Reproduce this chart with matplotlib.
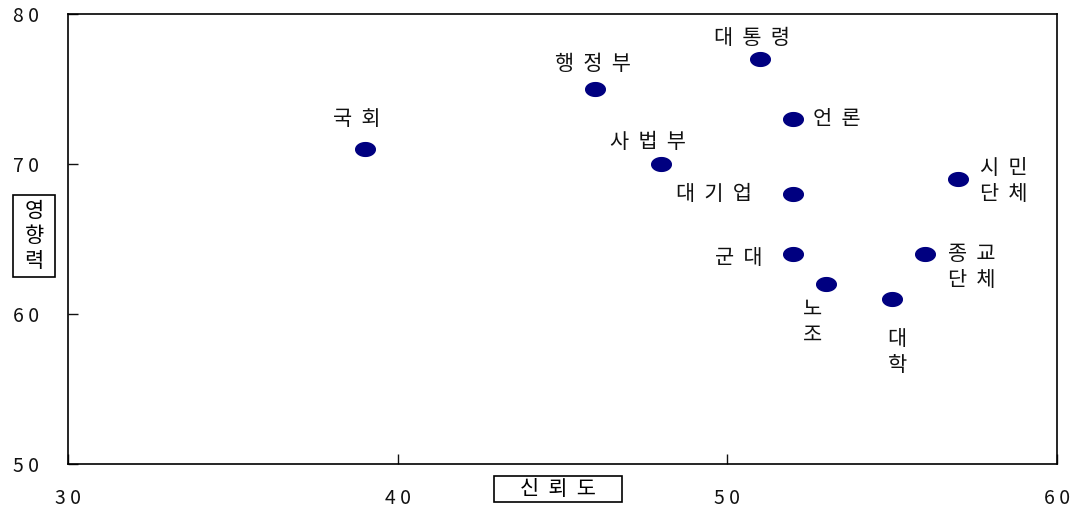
import matplotlib
matplotlib.use("Agg")
import matplotlib.pyplot as plt
import numpy as np
from matplotlib.path import Path
from matplotlib.patches import Rectangle

plt.rcParams['font.family'] = ['Noto Sans CJK KR', 'DejaVu Sans']
plt.rcParams['font.size'] = 15

# data: trust (x) vs influence (y)
names = ["국  회", "행  정  부", "대  통  령", "언  론", "사  법  부", "대  기  업",
         "시  민\n단  체", "군  대", "종  교\n단  체", "노\n조", "대\n학"]
trust = [39, 46, 51, 52, 48, 52, 57, 52, 56, 53, 55]
influence = [71, 75, 77, 73, 70, 68, 69, 64, 64, 62, 61]

x_ticks = [30, 40, 50, 60]
x_tick_labels = ["3 0", "4 0", "5 0", "6 0"]
y_ticks = [50, 60, 70, 80]
y_tick_labels = ["5 0", "6 0", "7 0", "8 0"]

# label placement: offset in pixels from point, alignment
label_pos = [(-8, 30, 'center'), (-3, 25, 'center'), (-8, 21, 'center'),
             (20, 0, 'left'), (-13, 22, 'center'), (-41, 0, 'right'),
             (22, -2, 'left'), (-31, -4, 'right'), (23, -13, 'left'),
             (-14, -38, 'center'), (5, -53, 'center')]

W, H = 1072, 508
fig = plt.figure(figsize=(W / 100, H / 100), dpi=100)
ax = fig.add_axes([68 / W, 44 / H, (1057 - 68) / W, (464 - 14) / H])

t = np.linspace(0, 2 * np.pi, 60)
ellipse = Path(np.column_stack([np.cos(t), 0.7 * np.sin(t)]))
ax.scatter(trust, influence, marker=ellipse, s=200, color='#000080', zorder=3)

for name, x, y, (dx, dy, ha) in zip(names, trust, influence, label_pos):
    ax.annotate(name, (x, y), xytext=(dx * 0.72, dy * 0.72), textcoords='offset points',
                ha=ha, va='center', fontsize=15, linespacing=1.2, color='#111111')

ax.set_xlim(30, 60)
ax.set_ylim(50, 80)
ax.set_xticks(x_ticks)
ax.set_xticklabels(x_tick_labels)
ax.set_yticks(y_ticks)
ax.set_yticklabels(y_tick_labels)
ax.tick_params(direction='in', length=7, width=1, labelsize=14, colors='#111111')
ax.tick_params(axis='x', pad=17)
ax.tick_params(axis='y', pad=21)
for sp in ax.spines.values():
    sp.set_linewidth(1.2)

# boxed axis titles
fig.patches.append(Rectangle((13 / W, 1 - 277 / H), 42 / W, 82 / H, transform=fig.transFigure,
                             facecolor='none', edgecolor='black', linewidth=1.2))
fig.text(34 / W, 1 - 236 / H, "영\n향\n력", ha='center', va='center', fontsize=15,
         linespacing=1.2)
fig.patches.append(Rectangle((494 / W, 1 - 502 / H), 128 / W, 26 / H, transform=fig.transFigure,
                             facecolor='none', edgecolor='black', linewidth=1.2))
fig.text(558 / W, 1 - 489 / H, "신  뢰  도", ha='center', va='center', fontsize=15)

fig.savefig("out.png", dpi=100)
